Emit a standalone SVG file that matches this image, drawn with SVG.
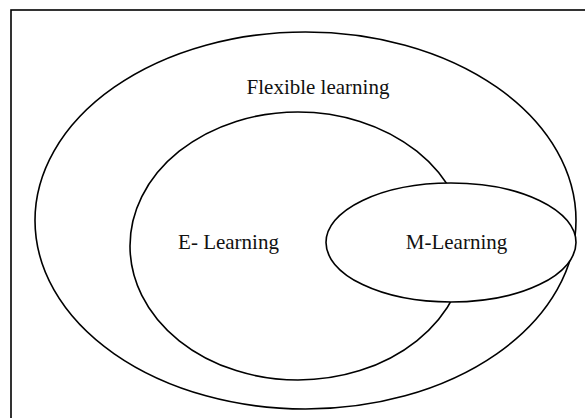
<svg xmlns="http://www.w3.org/2000/svg" width="585" height="418" viewBox="0 0 585 418">
  <style>
    .shape { fill: none; stroke: #000; stroke-width: 1.6; }
    .solid { fill: #fff; }
    .label { font-family: "Liberation Serif", "Times New Roman", serif; font-size: 21px; fill: #111; text-anchor: middle; }
  </style>
  <rect x="0" y="0" width="585" height="418" fill="#fff"/>
  <!-- frame running off the right and bottom edges -->
  <rect class="shape" x="11" y="10" width="620" height="460" stroke-width="2"/>
  <g id="flexible-learning">
    <ellipse class="shape" cx="305.5" cy="220.5" rx="270.5" ry="188.5"/>
    <text class="label" x="318" y="94">Flexible learning</text>
  </g>
  <g id="e-learning">
    <ellipse class="shape" cx="298" cy="246" rx="168" ry="134"/>
    <text class="label" x="228.5" y="249">E- Learning</text>
  </g>
  <g id="m-learning">
    <!-- opaque so it covers the E-learning outline -->
    <ellipse class="shape solid" cx="451" cy="242.5" rx="125" ry="59.5"/>
    <text class="label" x="456.5" y="249">M-Learning</text>
  </g>
  <g id="connectors"/>
</svg>
